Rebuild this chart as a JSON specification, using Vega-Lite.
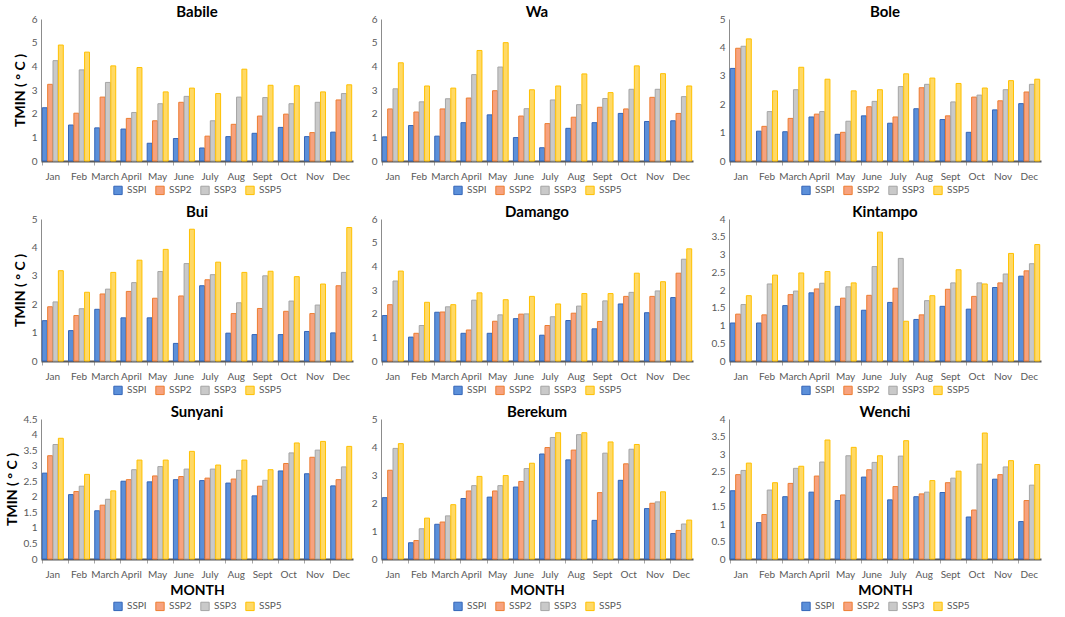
{
"$schema":"https://vega.github.io/schema/vega-lite/v6.json",
"background":"white",
"padding":5,
"columns":3,
"spacing":{"row":8,"column":18},
"align":"each",
"resolve":{"legend":{"fill":"independent","stroke":"independent"},"scale":{"y":"independent"}},
"config":{
 "font":"Lato",
 "view":{"stroke":null},
 "axis":{"grid":false,"ticks":false,"labelColor":"#595959","labelFontSize":10,"titleFontSize":14,"titleFontWeight":"bold","titleColor":"#000000"},
 "axisX":{"labelAngle":0,"domainColor":"#595959","domainWidth":2,"labelPadding":6,"ticks":true,"bandPosition":0,"tickColor":"#a6a6a6","tickSize":4},
 "axisY":{"domainColor":"#8c8c8c","labelPadding":4,"format":"~g"},
 "title":{"fontSize":15,"fontWeight":"bold","color":"#000000","offset":-6},
 "legend":{"orient":"bottom","direction":"horizontal","symbolType":"square","labelColor":"#595959","labelFontSize":10,"symbolSize":70,"columnPadding":6,"offset":4,"symbolStrokeWidth":1,"layout":{"bottom":{"anchor":"middle"}}}
},
"concat":[
{"title":"Babile","width":312,"height":142,
"data":{"values":[
{"month":"Jan","ssp":"SSPI","tmin":2.25},{"month":"Jan","ssp":"SSP2","tmin":3.24},{"month":"Jan","ssp":"SSP3","tmin":4.24},{"month":"Jan","ssp":"SSP5","tmin":4.9},
{"month":"Feb","ssp":"SSPI","tmin":1.52},{"month":"Feb","ssp":"SSP2","tmin":2.02},{"month":"Feb","ssp":"SSP3","tmin":3.85},{"month":"Feb","ssp":"SSP5","tmin":4.6},
{"month":"March","ssp":"SSPI","tmin":1.4},{"month":"March","ssp":"SSP2","tmin":2.7},{"month":"March","ssp":"SSP3","tmin":3.32},{"month":"March","ssp":"SSP5","tmin":4.02},
{"month":"April","ssp":"SSPI","tmin":1.35},{"month":"April","ssp":"SSP2","tmin":1.8},{"month":"April","ssp":"SSP3","tmin":2.05},{"month":"April","ssp":"SSP5","tmin":3.95},
{"month":"May","ssp":"SSPI","tmin":0.75},{"month":"May","ssp":"SSP2","tmin":1.7},{"month":"May","ssp":"SSP3","tmin":2.42},{"month":"May","ssp":"SSP5","tmin":2.92},
{"month":"June","ssp":"SSPI","tmin":0.95},{"month":"June","ssp":"SSP2","tmin":2.48},{"month":"June","ssp":"SSP3","tmin":2.73},{"month":"June","ssp":"SSP5","tmin":3.08},
{"month":"July","ssp":"SSPI","tmin":0.55},{"month":"July","ssp":"SSP2","tmin":1.05},{"month":"July","ssp":"SSP3","tmin":1.7},{"month":"July","ssp":"SSP5","tmin":2.85},
{"month":"Aug","ssp":"SSPI","tmin":1.03},{"month":"Aug","ssp":"SSP2","tmin":1.55},{"month":"Aug","ssp":"SSP3","tmin":2.7},{"month":"Aug","ssp":"SSP5","tmin":3.88},
{"month":"Sept","ssp":"SSPI","tmin":1.17},{"month":"Sept","ssp":"SSP2","tmin":1.9},{"month":"Sept","ssp":"SSP3","tmin":2.68},{"month":"Sept","ssp":"SSP5","tmin":3.2},
{"month":"Oct","ssp":"SSPI","tmin":1.42},{"month":"Oct","ssp":"SSP2","tmin":1.98},{"month":"Oct","ssp":"SSP3","tmin":2.42},{"month":"Oct","ssp":"SSP5","tmin":3.18},
{"month":"Nov","ssp":"SSPI","tmin":1.03},{"month":"Nov","ssp":"SSP2","tmin":1.2},{"month":"Nov","ssp":"SSP3","tmin":2.48},{"month":"Nov","ssp":"SSP5","tmin":2.92},
{"month":"Dec","ssp":"SSPI","tmin":1.22},{"month":"Dec","ssp":"SSP2","tmin":2.58},{"month":"Dec","ssp":"SSP3","tmin":2.85},{"month":"Dec","ssp":"SSP5","tmin":3.22}]},
"mark":{"type":"bar","strokeWidth":1},
"encoding":{
"x":{"field":"month","type":"nominal","sort":["Jan","Feb","March","April","May","June","July","Aug","Sept","Oct","Nov","Dec"],"title":null,"scale":{"paddingInner":0.2,"paddingOuter":0.05}},
"xOffset":{"field":"ssp","type":"nominal","sort":["SSPI","SSP2","SSP3","SSP5"],"scale":{"paddingInner":0.08}},
"y":{"field":"tmin","type":"quantitative","scale":{"domain":[0,6],"nice":false},"axis":{"values":[0,1,2,3,4,5,6],"title":"TMIN ( ° C )"}},
"fill":{"field":"ssp","type":"nominal","title":null,"scale":{"domain":["SSPI","SSP2","SSP3","SSP5"],"range":["#5b8fd9","#f7a27e","#c9c9c9","#ffd966"]}},
"stroke":{"field":"ssp","type":"nominal","title":null,"scale":{"domain":["SSPI","SSP2","SSP3","SSP5"],"range":["#3465b8","#ed7d31","#a5a5a5","#ffc000"]}}}},
{"title":"Wa","width":312,"height":142,
"data":{"values":[
{"month":"Jan","ssp":"SSPI","tmin":1.02},{"month":"Jan","ssp":"SSP2","tmin":2.2},{"month":"Jan","ssp":"SSP3","tmin":3.05},{"month":"Jan","ssp":"SSP5","tmin":4.15},
{"month":"Feb","ssp":"SSPI","tmin":1.5},{"month":"Feb","ssp":"SSP2","tmin":2.07},{"month":"Feb","ssp":"SSP3","tmin":2.5},{"month":"Feb","ssp":"SSP5","tmin":3.17},
{"month":"March","ssp":"SSPI","tmin":1.05},{"month":"March","ssp":"SSP2","tmin":2.2},{"month":"March","ssp":"SSP3","tmin":2.63},{"month":"March","ssp":"SSP5","tmin":3.08},
{"month":"April","ssp":"SSPI","tmin":1.62},{"month":"April","ssp":"SSP2","tmin":2.66},{"month":"April","ssp":"SSP3","tmin":3.65},{"month":"April","ssp":"SSP5","tmin":4.67},
{"month":"May","ssp":"SSPI","tmin":1.95},{"month":"May","ssp":"SSP2","tmin":2.97},{"month":"May","ssp":"SSP3","tmin":3.97},{"month":"May","ssp":"SSP5","tmin":5.0},
{"month":"June","ssp":"SSPI","tmin":0.99},{"month":"June","ssp":"SSP2","tmin":1.9},{"month":"June","ssp":"SSP3","tmin":2.21},{"month":"June","ssp":"SSP5","tmin":3.01},
{"month":"July","ssp":"SSPI","tmin":0.56},{"month":"July","ssp":"SSP2","tmin":1.58},{"month":"July","ssp":"SSP3","tmin":2.58},{"month":"July","ssp":"SSP5","tmin":3.17},
{"month":"Aug","ssp":"SSPI","tmin":1.38},{"month":"Aug","ssp":"SSP2","tmin":1.85},{"month":"Aug","ssp":"SSP3","tmin":2.38},{"month":"Aug","ssp":"SSP5","tmin":3.68},
{"month":"Sept","ssp":"SSPI","tmin":1.62},{"month":"Sept","ssp":"SSP2","tmin":2.27},{"month":"Sept","ssp":"SSP3","tmin":2.64},{"month":"Sept","ssp":"SSP5","tmin":2.89},
{"month":"Oct","ssp":"SSPI","tmin":2.01},{"month":"Oct","ssp":"SSP2","tmin":2.2},{"month":"Oct","ssp":"SSP3","tmin":3.03},{"month":"Oct","ssp":"SSP5","tmin":4.02},
{"month":"Nov","ssp":"SSPI","tmin":1.67},{"month":"Nov","ssp":"SSP2","tmin":2.69},{"month":"Nov","ssp":"SSP3","tmin":3.03},{"month":"Nov","ssp":"SSP5","tmin":3.69},
{"month":"Dec","ssp":"SSPI","tmin":1.7},{"month":"Dec","ssp":"SSP2","tmin":2.01},{"month":"Dec","ssp":"SSP3","tmin":2.72},{"month":"Dec","ssp":"SSP5","tmin":3.17}]},
"mark":{"type":"bar","strokeWidth":1},
"encoding":{
"x":{"field":"month","type":"nominal","sort":["Jan","Feb","March","April","May","June","July","Aug","Sept","Oct","Nov","Dec"],"title":null,"scale":{"paddingInner":0.2,"paddingOuter":0.05}},
"xOffset":{"field":"ssp","type":"nominal","sort":["SSPI","SSP2","SSP3","SSP5"],"scale":{"paddingInner":0.08}},
"y":{"field":"tmin","type":"quantitative","scale":{"domain":[0,6],"nice":false},"axis":{"values":[0,1,2,3,4,5,6],"title":null}},
"fill":{"field":"ssp","type":"nominal","title":null,"scale":{"domain":["SSPI","SSP2","SSP3","SSP5"],"range":["#5b8fd9","#f7a27e","#c9c9c9","#ffd966"]}},
"stroke":{"field":"ssp","type":"nominal","title":null,"scale":{"domain":["SSPI","SSP2","SSP3","SSP5"],"range":["#3465b8","#ed7d31","#a5a5a5","#ffc000"]}}}},
{"title":"Bole","width":312,"height":142,
"data":{"values":[
{"month":"Jan","ssp":"SSPI","tmin":3.26},{"month":"Jan","ssp":"SSP2","tmin":3.97},{"month":"Jan","ssp":"SSP3","tmin":4.04},{"month":"Jan","ssp":"SSP5","tmin":4.3},
{"month":"Feb","ssp":"SSPI","tmin":1.05},{"month":"Feb","ssp":"SSP2","tmin":1.22},{"month":"Feb","ssp":"SSP3","tmin":1.74},{"month":"Feb","ssp":"SSP5","tmin":2.47},
{"month":"March","ssp":"SSPI","tmin":1.03},{"month":"March","ssp":"SSP2","tmin":1.5},{"month":"March","ssp":"SSP3","tmin":2.51},{"month":"March","ssp":"SSP5","tmin":3.3},
{"month":"April","ssp":"SSPI","tmin":1.55},{"month":"April","ssp":"SSP2","tmin":1.65},{"month":"April","ssp":"SSP3","tmin":1.74},{"month":"April","ssp":"SSP5","tmin":2.88},
{"month":"May","ssp":"SSPI","tmin":0.94},{"month":"May","ssp":"SSP2","tmin":1.01},{"month":"May","ssp":"SSP3","tmin":1.4},{"month":"May","ssp":"SSP5","tmin":2.47},
{"month":"June","ssp":"SSPI","tmin":1.59},{"month":"June","ssp":"SSP2","tmin":1.91},{"month":"June","ssp":"SSP3","tmin":2.1},{"month":"June","ssp":"SSP5","tmin":2.51},
{"month":"July","ssp":"SSPI","tmin":1.33},{"month":"July","ssp":"SSP2","tmin":1.55},{"month":"July","ssp":"SSP3","tmin":2.62},{"month":"July","ssp":"SSP5","tmin":3.07},
{"month":"Aug","ssp":"SSPI","tmin":1.84},{"month":"Aug","ssp":"SSP2","tmin":2.58},{"month":"Aug","ssp":"SSP3","tmin":2.7},{"month":"Aug","ssp":"SSP5","tmin":2.92},
{"month":"Sept","ssp":"SSPI","tmin":1.46},{"month":"Sept","ssp":"SSP2","tmin":1.59},{"month":"Sept","ssp":"SSP3","tmin":2.08},{"month":"Sept","ssp":"SSP5","tmin":2.73},
{"month":"Oct","ssp":"SSPI","tmin":1.01},{"month":"Oct","ssp":"SSP2","tmin":2.25},{"month":"Oct","ssp":"SSP3","tmin":2.32},{"month":"Oct","ssp":"SSP5","tmin":2.57},
{"month":"Nov","ssp":"SSPI","tmin":1.8},{"month":"Nov","ssp":"SSP2","tmin":2.12},{"month":"Nov","ssp":"SSP3","tmin":2.51},{"month":"Nov","ssp":"SSP5","tmin":2.83},
{"month":"Dec","ssp":"SSPI","tmin":2.02},{"month":"Dec","ssp":"SSP2","tmin":2.43},{"month":"Dec","ssp":"SSP3","tmin":2.7},{"month":"Dec","ssp":"SSP5","tmin":2.88}]},
"mark":{"type":"bar","strokeWidth":1},
"encoding":{
"x":{"field":"month","type":"nominal","sort":["Jan","Feb","March","April","May","June","July","Aug","Sept","Oct","Nov","Dec"],"title":null,"scale":{"paddingInner":0.2,"paddingOuter":0.05}},
"xOffset":{"field":"ssp","type":"nominal","sort":["SSPI","SSP2","SSP3","SSP5"],"scale":{"paddingInner":0.08}},
"y":{"field":"tmin","type":"quantitative","scale":{"domain":[0,5],"nice":false},"axis":{"values":[0,1,2,3,4,5],"title":null}},
"fill":{"field":"ssp","type":"nominal","title":null,"scale":{"domain":["SSPI","SSP2","SSP3","SSP5"],"range":["#5b8fd9","#f7a27e","#c9c9c9","#ffd966"]}},
"stroke":{"field":"ssp","type":"nominal","title":null,"scale":{"domain":["SSPI","SSP2","SSP3","SSP5"],"range":["#3465b8","#ed7d31","#a5a5a5","#ffc000"]}}}},
{"title":"Bui","width":312,"height":142,
"data":{"values":[
{"month":"Jan","ssp":"SSPI","tmin":1.42},{"month":"Jan","ssp":"SSP2","tmin":1.91},{"month":"Jan","ssp":"SSP3","tmin":2.08},{"month":"Jan","ssp":"SSP5","tmin":3.18},
{"month":"Feb","ssp":"SSPI","tmin":1.07},{"month":"Feb","ssp":"SSP2","tmin":1.6},{"month":"Feb","ssp":"SSP3","tmin":1.84},{"month":"Feb","ssp":"SSP5","tmin":2.42},
{"month":"March","ssp":"SSPI","tmin":1.82},{"month":"March","ssp":"SSP2","tmin":2.36},{"month":"March","ssp":"SSP3","tmin":2.53},{"month":"March","ssp":"SSP5","tmin":3.12},
{"month":"April","ssp":"SSPI","tmin":1.52},{"month":"April","ssp":"SSP2","tmin":2.45},{"month":"April","ssp":"SSP3","tmin":2.76},{"month":"April","ssp":"SSP5","tmin":3.55},
{"month":"May","ssp":"SSPI","tmin":1.52},{"month":"May","ssp":"SSP2","tmin":2.21},{"month":"May","ssp":"SSP3","tmin":3.15},{"month":"May","ssp":"SSP5","tmin":3.93},
{"month":"June","ssp":"SSPI","tmin":0.62},{"month":"June","ssp":"SSP2","tmin":2.29},{"month":"June","ssp":"SSP3","tmin":3.43},{"month":"June","ssp":"SSP5","tmin":4.64},
{"month":"July","ssp":"SSPI","tmin":2.65},{"month":"July","ssp":"SSP2","tmin":2.86},{"month":"July","ssp":"SSP3","tmin":3.04},{"month":"July","ssp":"SSP5","tmin":3.48},
{"month":"Aug","ssp":"SSPI","tmin":0.98},{"month":"Aug","ssp":"SSP2","tmin":1.67},{"month":"Aug","ssp":"SSP3","tmin":2.05},{"month":"Aug","ssp":"SSP5","tmin":3.12},
{"month":"Sept","ssp":"SSPI","tmin":0.93},{"month":"Sept","ssp":"SSP2","tmin":1.85},{"month":"Sept","ssp":"SSP3","tmin":3.0},{"month":"Sept","ssp":"SSP5","tmin":3.16},
{"month":"Oct","ssp":"SSPI","tmin":0.93},{"month":"Oct","ssp":"SSP2","tmin":1.75},{"month":"Oct","ssp":"SSP3","tmin":2.11},{"month":"Oct","ssp":"SSP5","tmin":2.97},
{"month":"Nov","ssp":"SSPI","tmin":1.04},{"month":"Nov","ssp":"SSP2","tmin":1.67},{"month":"Nov","ssp":"SSP3","tmin":1.97},{"month":"Nov","ssp":"SSP5","tmin":2.71},
{"month":"Dec","ssp":"SSPI","tmin":0.99},{"month":"Dec","ssp":"SSP2","tmin":2.65},{"month":"Dec","ssp":"SSP3","tmin":3.12},{"month":"Dec","ssp":"SSP5","tmin":4.7}]},
"mark":{"type":"bar","strokeWidth":1},
"encoding":{
"x":{"field":"month","type":"nominal","sort":["Jan","Feb","March","April","May","June","July","Aug","Sept","Oct","Nov","Dec"],"title":null,"scale":{"paddingInner":0.2,"paddingOuter":0.05}},
"xOffset":{"field":"ssp","type":"nominal","sort":["SSPI","SSP2","SSP3","SSP5"],"scale":{"paddingInner":0.08}},
"y":{"field":"tmin","type":"quantitative","scale":{"domain":[0,5],"nice":false},"axis":{"values":[0,1,2,3,4,5],"title":"TMIN ( ° C )"}},
"fill":{"field":"ssp","type":"nominal","title":null,"scale":{"domain":["SSPI","SSP2","SSP3","SSP5"],"range":["#5b8fd9","#f7a27e","#c9c9c9","#ffd966"]}},
"stroke":{"field":"ssp","type":"nominal","title":null,"scale":{"domain":["SSPI","SSP2","SSP3","SSP5"],"range":["#3465b8","#ed7d31","#a5a5a5","#ffc000"]}}}},
{"title":"Damango","width":312,"height":142,
"data":{"values":[
{"month":"Jan","ssp":"SSPI","tmin":1.92},{"month":"Jan","ssp":"SSP2","tmin":2.38},{"month":"Jan","ssp":"SSP3","tmin":3.38},{"month":"Jan","ssp":"SSP5","tmin":3.8},
{"month":"Feb","ssp":"SSPI","tmin":1.01},{"month":"Feb","ssp":"SSP2","tmin":1.17},{"month":"Feb","ssp":"SSP3","tmin":1.5},{"month":"Feb","ssp":"SSP5","tmin":2.48},
{"month":"March","ssp":"SSPI","tmin":2.06},{"month":"March","ssp":"SSP2","tmin":2.07},{"month":"March","ssp":"SSP3","tmin":2.29},{"month":"March","ssp":"SSP5","tmin":2.38},
{"month":"April","ssp":"SSPI","tmin":1.17},{"month":"April","ssp":"SSP2","tmin":1.31},{"month":"April","ssp":"SSP3","tmin":2.57},{"month":"April","ssp":"SSP5","tmin":2.88},
{"month":"May","ssp":"SSPI","tmin":1.17},{"month":"May","ssp":"SSP2","tmin":1.68},{"month":"May","ssp":"SSP3","tmin":1.95},{"month":"May","ssp":"SSP5","tmin":2.59},
{"month":"June","ssp":"SSPI","tmin":1.79},{"month":"June","ssp":"SSP2","tmin":1.98},{"month":"June","ssp":"SSP3","tmin":1.99},{"month":"June","ssp":"SSP5","tmin":2.73},
{"month":"July","ssp":"SSPI","tmin":1.09},{"month":"July","ssp":"SSP2","tmin":1.5},{"month":"July","ssp":"SSP3","tmin":1.87},{"month":"July","ssp":"SSP5","tmin":2.41},
{"month":"Aug","ssp":"SSPI","tmin":1.71},{"month":"Aug","ssp":"SSP2","tmin":2.02},{"month":"Aug","ssp":"SSP3","tmin":2.32},{"month":"Aug","ssp":"SSP5","tmin":2.85},
{"month":"Sept","ssp":"SSPI","tmin":1.36},{"month":"Sept","ssp":"SSP2","tmin":1.67},{"month":"Sept","ssp":"SSP3","tmin":2.54},{"month":"Sept","ssp":"SSP5","tmin":2.85},
{"month":"Oct","ssp":"SSPI","tmin":2.41},{"month":"Oct","ssp":"SSP2","tmin":2.73},{"month":"Oct","ssp":"SSP3","tmin":2.9},{"month":"Oct","ssp":"SSP5","tmin":3.71},
{"month":"Nov","ssp":"SSPI","tmin":2.04},{"month":"Nov","ssp":"SSP2","tmin":2.73},{"month":"Nov","ssp":"SSP3","tmin":2.96},{"month":"Nov","ssp":"SSP5","tmin":3.35},
{"month":"Dec","ssp":"SSPI","tmin":2.68},{"month":"Dec","ssp":"SSP2","tmin":3.71},{"month":"Dec","ssp":"SSP3","tmin":4.3},{"month":"Dec","ssp":"SSP5","tmin":4.74}]},
"mark":{"type":"bar","strokeWidth":1},
"encoding":{
"x":{"field":"month","type":"nominal","sort":["Jan","Feb","March","April","May","June","July","Aug","Sept","Oct","Nov","Dec"],"title":null,"scale":{"paddingInner":0.2,"paddingOuter":0.05}},
"xOffset":{"field":"ssp","type":"nominal","sort":["SSPI","SSP2","SSP3","SSP5"],"scale":{"paddingInner":0.08}},
"y":{"field":"tmin","type":"quantitative","scale":{"domain":[0,6],"nice":false},"axis":{"values":[0,1,2,3,4,5,6],"title":null}},
"fill":{"field":"ssp","type":"nominal","title":null,"scale":{"domain":["SSPI","SSP2","SSP3","SSP5"],"range":["#5b8fd9","#f7a27e","#c9c9c9","#ffd966"]}},
"stroke":{"field":"ssp","type":"nominal","title":null,"scale":{"domain":["SSPI","SSP2","SSP3","SSP5"],"range":["#3465b8","#ed7d31","#a5a5a5","#ffc000"]}}}},
{"title":"Kintampo","width":312,"height":142,
"data":{"values":[
{"month":"Jan","ssp":"SSPI","tmin":1.07},{"month":"Jan","ssp":"SSP2","tmin":1.32},{"month":"Jan","ssp":"SSP3","tmin":1.59},{"month":"Jan","ssp":"SSP5","tmin":1.84},
{"month":"Feb","ssp":"SSPI","tmin":1.07},{"month":"Feb","ssp":"SSP2","tmin":1.3},{"month":"Feb","ssp":"SSP3","tmin":2.17},{"month":"Feb","ssp":"SSP5","tmin":2.42},
{"month":"March","ssp":"SSPI","tmin":1.56},{"month":"March","ssp":"SSP2","tmin":1.87},{"month":"March","ssp":"SSP3","tmin":1.97},{"month":"March","ssp":"SSP5","tmin":2.48},
{"month":"April","ssp":"SSPI","tmin":1.92},{"month":"April","ssp":"SSP2","tmin":2.03},{"month":"April","ssp":"SSP3","tmin":2.19},{"month":"April","ssp":"SSP5","tmin":2.52},
{"month":"May","ssp":"SSPI","tmin":1.54},{"month":"May","ssp":"SSP2","tmin":1.77},{"month":"May","ssp":"SSP3","tmin":2.09},{"month":"May","ssp":"SSP5","tmin":2.2},
{"month":"June","ssp":"SSPI","tmin":1.43},{"month":"June","ssp":"SSP2","tmin":1.85},{"month":"June","ssp":"SSP3","tmin":2.66},{"month":"June","ssp":"SSP5","tmin":3.63},
{"month":"July","ssp":"SSPI","tmin":1.65},{"month":"July","ssp":"SSP2","tmin":2.05},{"month":"July","ssp":"SSP3","tmin":2.89},{"month":"July","ssp":"SSP5","tmin":1.12},
{"month":"Aug","ssp":"SSPI","tmin":1.17},{"month":"Aug","ssp":"SSP2","tmin":1.3},{"month":"Aug","ssp":"SSP3","tmin":1.7},{"month":"Aug","ssp":"SSP5","tmin":1.84},
{"month":"Sept","ssp":"SSPI","tmin":1.54},{"month":"Sept","ssp":"SSP2","tmin":2.02},{"month":"Sept","ssp":"SSP3","tmin":2.2},{"month":"Sept","ssp":"SSP5","tmin":2.57},
{"month":"Oct","ssp":"SSPI","tmin":1.46},{"month":"Oct","ssp":"SSP2","tmin":1.82},{"month":"Oct","ssp":"SSP3","tmin":2.2},{"month":"Oct","ssp":"SSP5","tmin":2.17},
{"month":"Nov","ssp":"SSPI","tmin":2.07},{"month":"Nov","ssp":"SSP2","tmin":2.2},{"month":"Nov","ssp":"SSP3","tmin":2.45},{"month":"Nov","ssp":"SSP5","tmin":3.03},
{"month":"Dec","ssp":"SSPI","tmin":2.39},{"month":"Dec","ssp":"SSP2","tmin":2.54},{"month":"Dec","ssp":"SSP3","tmin":2.74},{"month":"Dec","ssp":"SSP5","tmin":3.28}]},
"mark":{"type":"bar","strokeWidth":1},
"encoding":{
"x":{"field":"month","type":"nominal","sort":["Jan","Feb","March","April","May","June","July","Aug","Sept","Oct","Nov","Dec"],"title":null,"scale":{"paddingInner":0.2,"paddingOuter":0.05}},
"xOffset":{"field":"ssp","type":"nominal","sort":["SSPI","SSP2","SSP3","SSP5"],"scale":{"paddingInner":0.08}},
"y":{"field":"tmin","type":"quantitative","scale":{"domain":[0,4],"nice":false},"axis":{"values":[0,0.5,1,1.5,2,2.5,3,3.5,4],"title":null}},
"fill":{"field":"ssp","type":"nominal","title":null,"scale":{"domain":["SSPI","SSP2","SSP3","SSP5"],"range":["#5b8fd9","#f7a27e","#c9c9c9","#ffd966"]}},
"stroke":{"field":"ssp","type":"nominal","title":null,"scale":{"domain":["SSPI","SSP2","SSP3","SSP5"],"range":["#3465b8","#ed7d31","#a5a5a5","#ffc000"]}}}},
{"title":"Sunyani","width":312,"height":140,
"data":{"values":[
{"month":"Jan","ssp":"SSPI","tmin":2.76},{"month":"Jan","ssp":"SSP2","tmin":3.32},{"month":"Jan","ssp":"SSP3","tmin":3.68},{"month":"Jan","ssp":"SSP5","tmin":3.88},
{"month":"Feb","ssp":"SSPI","tmin":2.07},{"month":"Feb","ssp":"SSP2","tmin":2.17},{"month":"Feb","ssp":"SSP3","tmin":2.34},{"month":"Feb","ssp":"SSP5","tmin":2.72},
{"month":"March","ssp":"SSPI","tmin":1.55},{"month":"March","ssp":"SSP2","tmin":1.73},{"month":"March","ssp":"SSP3","tmin":1.92},{"month":"March","ssp":"SSP5","tmin":2.19},
{"month":"April","ssp":"SSPI","tmin":2.5},{"month":"April","ssp":"SSP2","tmin":2.55},{"month":"April","ssp":"SSP3","tmin":2.87},{"month":"April","ssp":"SSP5","tmin":3.18},
{"month":"May","ssp":"SSPI","tmin":2.48},{"month":"May","ssp":"SSP2","tmin":2.67},{"month":"May","ssp":"SSP3","tmin":2.97},{"month":"May","ssp":"SSP5","tmin":3.18},
{"month":"June","ssp":"SSPI","tmin":2.55},{"month":"June","ssp":"SSP2","tmin":2.65},{"month":"June","ssp":"SSP3","tmin":2.89},{"month":"June","ssp":"SSP5","tmin":3.46},
{"month":"July","ssp":"SSPI","tmin":2.52},{"month":"July","ssp":"SSP2","tmin":2.6},{"month":"July","ssp":"SSP3","tmin":2.89},{"month":"July","ssp":"SSP5","tmin":3.02},
{"month":"Aug","ssp":"SSPI","tmin":2.44},{"month":"Aug","ssp":"SSP2","tmin":2.57},{"month":"Aug","ssp":"SSP3","tmin":2.85},{"month":"Aug","ssp":"SSP5","tmin":3.18},
{"month":"Sept","ssp":"SSPI","tmin":2.03},{"month":"Sept","ssp":"SSP2","tmin":2.34},{"month":"Sept","ssp":"SSP3","tmin":2.53},{"month":"Sept","ssp":"SSP5","tmin":2.87},
{"month":"Oct","ssp":"SSPI","tmin":2.83},{"month":"Oct","ssp":"SSP2","tmin":3.07},{"month":"Oct","ssp":"SSP3","tmin":3.41},{"month":"Oct","ssp":"SSP5","tmin":3.73},
{"month":"Nov","ssp":"SSPI","tmin":2.74},{"month":"Nov","ssp":"SSP2","tmin":3.27},{"month":"Nov","ssp":"SSP3","tmin":3.5},{"month":"Nov","ssp":"SSP5","tmin":3.78},
{"month":"Dec","ssp":"SSPI","tmin":2.35},{"month":"Dec","ssp":"SSP2","tmin":2.55},{"month":"Dec","ssp":"SSP3","tmin":2.96},{"month":"Dec","ssp":"SSP5","tmin":3.62}]},
"mark":{"type":"bar","strokeWidth":1},
"encoding":{
"x":{"field":"month","type":"nominal","sort":["Jan","Feb","March","April","May","June","July","Aug","Sept","Oct","Nov","Dec"],"title":"MONTH","scale":{"paddingInner":0.2,"paddingOuter":0.05}},
"xOffset":{"field":"ssp","type":"nominal","sort":["SSPI","SSP2","SSP3","SSP5"],"scale":{"paddingInner":0.08}},
"y":{"field":"tmin","type":"quantitative","scale":{"domain":[0,4.5],"nice":false},"axis":{"values":[0,0.5,1,1.5,2,2.5,3,3.5,4,4.5],"title":"TMIN ( ° C )"}},
"fill":{"field":"ssp","type":"nominal","title":null,"scale":{"domain":["SSPI","SSP2","SSP3","SSP5"],"range":["#5b8fd9","#f7a27e","#c9c9c9","#ffd966"]}},
"stroke":{"field":"ssp","type":"nominal","title":null,"scale":{"domain":["SSPI","SSP2","SSP3","SSP5"],"range":["#3465b8","#ed7d31","#a5a5a5","#ffc000"]}}}},
{"title":"Berekum","width":312,"height":140,
"data":{"values":[
{"month":"Jan","ssp":"SSPI","tmin":2.19},{"month":"Jan","ssp":"SSP2","tmin":3.17},{"month":"Jan","ssp":"SSP3","tmin":3.95},{"month":"Jan","ssp":"SSP5","tmin":4.12},
{"month":"Feb","ssp":"SSPI","tmin":0.58},{"month":"Feb","ssp":"SSP2","tmin":0.66},{"month":"Feb","ssp":"SSP3","tmin":1.08},{"month":"Feb","ssp":"SSP5","tmin":1.46},
{"month":"March","ssp":"SSPI","tmin":1.24},{"month":"March","ssp":"SSP2","tmin":1.32},{"month":"March","ssp":"SSP3","tmin":1.54},{"month":"March","ssp":"SSP5","tmin":1.94},
{"month":"April","ssp":"SSPI","tmin":2.16},{"month":"April","ssp":"SSP2","tmin":2.43},{"month":"April","ssp":"SSP3","tmin":2.62},{"month":"April","ssp":"SSP5","tmin":2.95},
{"month":"May","ssp":"SSPI","tmin":2.21},{"month":"May","ssp":"SSP2","tmin":2.43},{"month":"May","ssp":"SSP3","tmin":2.62},{"month":"May","ssp":"SSP5","tmin":2.98},
{"month":"June","ssp":"SSPI","tmin":2.57},{"month":"June","ssp":"SSP2","tmin":2.77},{"month":"June","ssp":"SSP3","tmin":3.23},{"month":"June","ssp":"SSP5","tmin":3.42},
{"month":"July","ssp":"SSPI","tmin":3.75},{"month":"July","ssp":"SSP2","tmin":3.98},{"month":"July","ssp":"SSP3","tmin":4.34},{"month":"July","ssp":"SSP5","tmin":4.51},
{"month":"Aug","ssp":"SSPI","tmin":3.54},{"month":"Aug","ssp":"SSP2","tmin":3.89},{"month":"Aug","ssp":"SSP3","tmin":4.44},{"month":"Aug","ssp":"SSP5","tmin":4.51},
{"month":"Sept","ssp":"SSPI","tmin":1.38},{"month":"Sept","ssp":"SSP2","tmin":2.37},{"month":"Sept","ssp":"SSP3","tmin":3.78},{"month":"Sept","ssp":"SSP5","tmin":4.18},
{"month":"Oct","ssp":"SSPI","tmin":2.81},{"month":"Oct","ssp":"SSP2","tmin":3.4},{"month":"Oct","ssp":"SSP3","tmin":3.92},{"month":"Oct","ssp":"SSP5","tmin":4.09},
{"month":"Nov","ssp":"SSPI","tmin":1.8},{"month":"Nov","ssp":"SSP2","tmin":1.99},{"month":"Nov","ssp":"SSP3","tmin":2.04},{"month":"Nov","ssp":"SSP5","tmin":2.4},
{"month":"Dec","ssp":"SSPI","tmin":0.91},{"month":"Dec","ssp":"SSP2","tmin":1.02},{"month":"Dec","ssp":"SSP3","tmin":1.25},{"month":"Dec","ssp":"SSP5","tmin":1.39}]},
"mark":{"type":"bar","strokeWidth":1},
"encoding":{
"x":{"field":"month","type":"nominal","sort":["Jan","Feb","March","April","May","June","July","Aug","Sept","Oct","Nov","Dec"],"title":"MONTH","scale":{"paddingInner":0.2,"paddingOuter":0.05}},
"xOffset":{"field":"ssp","type":"nominal","sort":["SSPI","SSP2","SSP3","SSP5"],"scale":{"paddingInner":0.08}},
"y":{"field":"tmin","type":"quantitative","scale":{"domain":[0,5],"nice":false},"axis":{"values":[0,1,2,3,4,5],"title":null}},
"fill":{"field":"ssp","type":"nominal","title":null,"scale":{"domain":["SSPI","SSP2","SSP3","SSP5"],"range":["#5b8fd9","#f7a27e","#c9c9c9","#ffd966"]}},
"stroke":{"field":"ssp","type":"nominal","title":null,"scale":{"domain":["SSPI","SSP2","SSP3","SSP5"],"range":["#3465b8","#ed7d31","#a5a5a5","#ffc000"]}}}},
{"title":"Wenchi","width":312,"height":140,
"data":{"values":[
{"month":"Jan","ssp":"SSPI","tmin":1.95},{"month":"Jan","ssp":"SSP2","tmin":2.41},{"month":"Jan","ssp":"SSP3","tmin":2.53},{"month":"Jan","ssp":"SSP5","tmin":2.74},
{"month":"Feb","ssp":"SSPI","tmin":1.04},{"month":"Feb","ssp":"SSP2","tmin":1.27},{"month":"Feb","ssp":"SSP3","tmin":1.97},{"month":"Feb","ssp":"SSP5","tmin":2.18},
{"month":"March","ssp":"SSPI","tmin":1.78},{"month":"March","ssp":"SSP2","tmin":2.16},{"month":"March","ssp":"SSP3","tmin":2.59},{"month":"March","ssp":"SSP5","tmin":2.65},
{"month":"April","ssp":"SSPI","tmin":1.91},{"month":"April","ssp":"SSP2","tmin":2.37},{"month":"April","ssp":"SSP3","tmin":2.77},{"month":"April","ssp":"SSP5","tmin":3.4},
{"month":"May","ssp":"SSPI","tmin":1.67},{"month":"May","ssp":"SSP2","tmin":1.83},{"month":"May","ssp":"SSP3","tmin":2.95},{"month":"May","ssp":"SSP5","tmin":3.19},
{"month":"June","ssp":"SSPI","tmin":2.34},{"month":"June","ssp":"SSP2","tmin":2.55},{"month":"June","ssp":"SSP3","tmin":2.76},{"month":"June","ssp":"SSP5","tmin":2.95},
{"month":"July","ssp":"SSPI","tmin":1.69},{"month":"July","ssp":"SSP2","tmin":2.07},{"month":"July","ssp":"SSP3","tmin":2.94},{"month":"July","ssp":"SSP5","tmin":3.38},
{"month":"Aug","ssp":"SSPI","tmin":1.78},{"month":"Aug","ssp":"SSP2","tmin":1.86},{"month":"Aug","ssp":"SSP3","tmin":1.91},{"month":"Aug","ssp":"SSP5","tmin":2.24},
{"month":"Sept","ssp":"SSPI","tmin":1.9},{"month":"Sept","ssp":"SSP2","tmin":2.18},{"month":"Sept","ssp":"SSP3","tmin":2.31},{"month":"Sept","ssp":"SSP5","tmin":2.51},
{"month":"Oct","ssp":"SSPI","tmin":1.2},{"month":"Oct","ssp":"SSP2","tmin":1.4},{"month":"Oct","ssp":"SSP3","tmin":2.71},{"month":"Oct","ssp":"SSP5","tmin":3.6},
{"month":"Nov","ssp":"SSPI","tmin":2.28},{"month":"Nov","ssp":"SSP2","tmin":2.41},{"month":"Nov","ssp":"SSP3","tmin":2.63},{"month":"Nov","ssp":"SSP5","tmin":2.81},
{"month":"Dec","ssp":"SSPI","tmin":1.07},{"month":"Dec","ssp":"SSP2","tmin":1.67},{"month":"Dec","ssp":"SSP3","tmin":2.11},{"month":"Dec","ssp":"SSP5","tmin":2.7}]},
"mark":{"type":"bar","strokeWidth":1},
"encoding":{
"x":{"field":"month","type":"nominal","sort":["Jan","Feb","March","April","May","June","July","Aug","Sept","Oct","Nov","Dec"],"title":"MONTH","scale":{"paddingInner":0.2,"paddingOuter":0.05}},
"xOffset":{"field":"ssp","type":"nominal","sort":["SSPI","SSP2","SSP3","SSP5"],"scale":{"paddingInner":0.08}},
"y":{"field":"tmin","type":"quantitative","scale":{"domain":[0,4],"nice":false},"axis":{"values":[0,0.5,1,1.5,2,2.5,3,3.5,4],"title":null}},
"fill":{"field":"ssp","type":"nominal","title":null,"scale":{"domain":["SSPI","SSP2","SSP3","SSP5"],"range":["#5b8fd9","#f7a27e","#c9c9c9","#ffd966"]}},
"stroke":{"field":"ssp","type":"nominal","title":null,"scale":{"domain":["SSPI","SSP2","SSP3","SSP5"],"range":["#3465b8","#ed7d31","#a5a5a5","#ffc000"]}}}}
]
}
